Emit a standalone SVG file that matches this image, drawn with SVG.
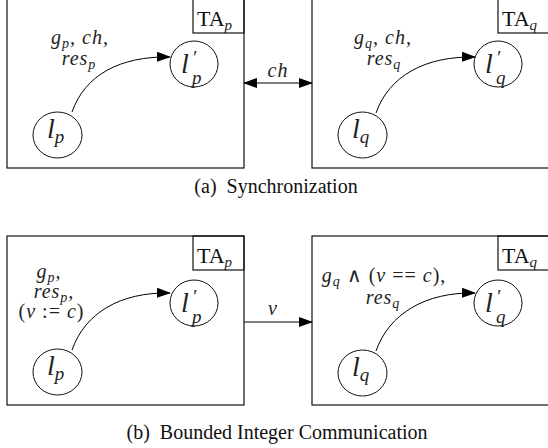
<svg xmlns="http://www.w3.org/2000/svg" width="548" height="448" viewBox="0 0 548 448" font-family="'Liberation Serif', 'Times New Roman', serif">
<style>
  .box{fill:none;stroke:#111;stroke-width:1.2}
  .circ{fill:#fff;stroke:#111;stroke-width:1}
  .edge{fill:none;stroke:#000;stroke-width:1}
  .m{font-style:italic;fill:#222}
  .lab{font-size:20px;letter-spacing:1px}
  .sub{font-size:14px}
  .n{font-style:normal}
  .node{font-size:28px}
  .up{font-style:normal;fill:#111}
  .cap{font-size:20px;fill:#111}
</style>
<defs>
  <marker id="ah" markerUnits="userSpaceOnUse" markerWidth="14" markerHeight="10" refX="13" refY="5" orient="auto-start-reverse">
    <path d="M0,0 L14,5 L0,10 Z" fill="#000"/>
  </marker>
</defs>

<!-- (a) Synchronization -->
<g id="TA_p_a">
  <rect class="box" x="7" y="-2" width="237" height="170"/>
  <rect class="box" x="193" y="-2" width="51" height="35"/>
  <text class="up" x="197" y="26" font-size="22">TA<tspan class="m" font-size="15" dy="4">p</tspan></text>
</g>
<g id="TA_q_a">
  <rect class="box" x="312" y="-2" width="240" height="170"/>
  <rect class="box" x="498" y="-2" width="52" height="35"/>
  <text class="up" x="502" y="26" font-size="22">TA<tspan class="m" font-size="15" dy="4">q</tspan></text>
</g>

<g id="connectors_a">
  <path class="edge" d="M72,112 C85,75 120,56 170,57" marker-end="url(#ah)"/>
  <path class="edge" d="M376,113 C389,76 425,56 475,57" marker-end="url(#ah)"/>
  <line class="edge" x1="244" y1="83" x2="312" y2="83" marker-start="url(#ah)" marker-end="url(#ah)"/>
  <text class="m lab" x="278" y="77" text-anchor="middle">ch</text>
  <text class="m lab" x="80" y="44" text-anchor="middle">g<tspan class="sub" dy="4">p</tspan><tspan dy="-4">, ch,</tspan></text>
  <text class="m lab" x="79" y="65" text-anchor="middle">res<tspan class="sub" dy="4">p</tspan></text>
  <text class="m lab" x="383" y="44" text-anchor="middle">g<tspan class="sub" dy="4">q</tspan><tspan dy="-4">, ch,</tspan></text>
  <text class="m lab" x="384" y="65" text-anchor="middle">res<tspan class="sub" dy="4">q</tspan></text>
</g>

<g id="lp_a">
  <ellipse class="circ" cx="57.5" cy="135" rx="24.5" ry="23"/>
  <text class="m node" x="47" y="138">l<tspan font-size="19" dy="5">p</tspan></text>
</g>
<g id="lpp_a">
  <ellipse class="circ" cx="194" cy="64" rx="24" ry="23"/>
  <text class="m node" x="181" y="73">l</text>
  <text class="m" font-size="19" x="192" y="64">′</text>
  <text class="m" font-size="19" x="192" y="84">p</text>
</g>
<g id="lq_a">
  <ellipse class="circ" cx="362.5" cy="135" rx="24.5" ry="23"/>
  <text class="m node" x="352" y="138">l<tspan font-size="19" dy="5">q</tspan></text>
</g>
<g id="lqp_a">
  <ellipse class="circ" cx="498" cy="64" rx="24" ry="23"/>
  <text class="m node" x="485" y="73">l</text>
  <text class="m" font-size="19" x="496" y="64">′</text>
  <text class="m" font-size="19" x="496" y="84">q</text>
</g>

<text class="cap" x="276" y="193" text-anchor="middle" xml:space="preserve">(a)  Synchronization</text>

<!-- (b) Bounded Integer Communication -->
<g id="TA_p_b">
  <rect class="box" x="7" y="236" width="237" height="169"/>
  <rect class="box" x="193" y="236" width="51" height="34"/>
  <text class="up" x="197" y="263" font-size="22">TA<tspan class="m" font-size="15" dy="4">p</tspan></text>
</g>
<g id="TA_q_b">
  <rect class="box" x="312" y="236" width="240" height="169"/>
  <rect class="box" x="498" y="236" width="52" height="34"/>
  <text class="up" x="502" y="263" font-size="22">TA<tspan class="m" font-size="15" dy="4">q</tspan></text>
</g>

<g id="connectors_b">
  <path class="edge" d="M72,350 C85,313 120,292 170,293" marker-end="url(#ah)"/>
  <path class="edge" d="M376,351 C389,314 425,292 475,293" marker-end="url(#ah)"/>
  <line class="edge" x1="244" y1="322" x2="312" y2="322" marker-end="url(#ah)"/>
  <text class="m lab" x="273" y="315" text-anchor="middle">v</text>
  <text class="m lab" x="49" y="278" text-anchor="middle">g<tspan class="sub" dy="4">p</tspan><tspan dy="-4">,</tspan></text>
  <text class="m lab" x="54" y="298" text-anchor="middle">res<tspan class="sub" dy="4">p</tspan><tspan dy="-4">,</tspan></text>
  <text class="m lab" x="51.5" y="318" text-anchor="middle"><tspan class="n">(</tspan>v <tspan class="n">:= </tspan>c<tspan class="n">)</tspan></text>
  <text class="m lab" x="384" y="282" text-anchor="middle">g<tspan class="sub" dy="4">q</tspan><tspan dy="-4" class="n"> ∧ (</tspan>v<tspan class="n"> == </tspan>c<tspan class="n">),</tspan></text>
  <text class="m lab" x="383" y="304" text-anchor="middle">res<tspan class="sub" dy="4">q</tspan></text>
</g>

<g id="lp_b">
  <ellipse class="circ" cx="57.5" cy="372" rx="24.5" ry="23"/>
  <text class="m node" x="47" y="375">l<tspan font-size="19" dy="5">p</tspan></text>
</g>
<g id="lpp_b">
  <ellipse class="circ" cx="194" cy="303" rx="24" ry="23"/>
  <text class="m node" x="181" y="312">l</text>
  <text class="m" font-size="19" x="192" y="303">′</text>
  <text class="m" font-size="19" x="192" y="323">p</text>
</g>
<g id="lq_b">
  <ellipse class="circ" cx="362.5" cy="373" rx="24.5" ry="23"/>
  <text class="m node" x="352" y="376">l<tspan font-size="19" dy="5">q</tspan></text>
</g>
<g id="lqp_b">
  <ellipse class="circ" cx="498" cy="303" rx="24" ry="23"/>
  <text class="m node" x="485" y="312">l</text>
  <text class="m" font-size="19" x="496" y="303">′</text>
  <text class="m" font-size="19" x="496" y="323">q</text>
</g>

<text class="cap" x="277" y="439" text-anchor="middle" xml:space="preserve">(b)  Bounded Integer Communication</text>
</svg>
